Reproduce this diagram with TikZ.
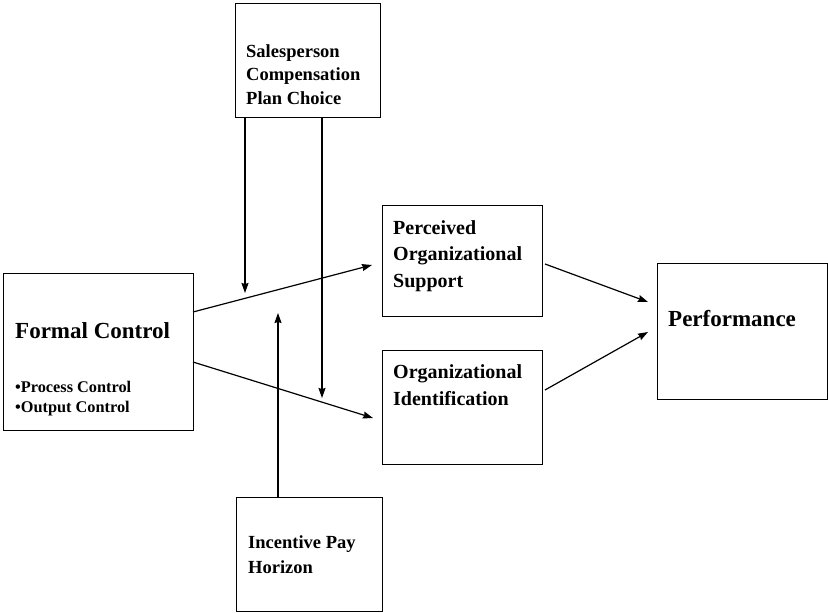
\documentclass[tikz,border=0pt]{standalone}
\usepackage{fontspec}
\setmainfont{Liberation Serif}
\usetikzlibrary{arrows.meta,calc}
\begin{document}
\begin{tikzpicture}[x=1pt,y=-1pt,
  box/.style={draw=black,line width=1pt,inner sep=0pt,outer sep=0pt,anchor=north west,fill=white},
  lbl/.style={anchor=base west,align=left,inner sep=0pt,font=\bfseries},
  arr/.style={line width=1.2pt,-{Stealth[length=10pt,width=7pt,inset=1pt]}}]
\useasboundingbox[fill=white] (0,0) rectangle (828,613);
% boxes
\node[box,minimum width=145pt,minimum height=114pt] (sp) at (235,3) {};
\node[box,minimum width=190pt,minimum height=157pt] (fc) at (3,273) {};
\node[box,minimum width=160pt,minimum height=111pt] (pos) at (382,205) {};
\node[box,minimum width=160pt,minimum height=114pt] (oi) at (382,350) {};
\node[box,minimum width=170pt,minimum height=136pt] (perf) at (657,263) {};
\node[box,minimum width=146pt,minimum height=114pt] (ip) at (236,497) {};
% labels (base = baseline of last line)
\node[lbl,font=\bfseries\fontsize{18.5}{23.5}\selectfont] (tsp) at (246,104) {Salesperson\\Compensation\\Plan Choice};
\node[lbl,font=\bfseries\fontsize{23}{27}\selectfont] (tfc) at (15,338) {Formal Control};
\node[lbl,font=\bfseries\fontsize{16.3}{20}\selectfont] (tfc2) at (15,412) {•Process Control\\•Output Control};
\node[lbl,font=\bfseries\fontsize{20}{26.5}\selectfont] (tpos) at (393,287) {Perceived\\Organizational\\Support};
\node[lbl,font=\bfseries\fontsize{20}{26.5}\selectfont] (toi) at (393,405) {Organizational\\Identification};
\node[lbl,font=\bfseries\fontsize{23}{27}\selectfont] (tperf) at (668,326) {Performance};
\node[lbl,font=\bfseries\fontsize{18.5}{25}\selectfont] (tip) at (248,573) {Incentive Pay\\Horizon};
% free ends
\coordinate (m1) at (245,293);
\coordinate (m2) at (322,398);
\coordinate (m3) at (278,313);
% connectors
\draw[arr] ($(fc.north east)+(0,39)$) -- ($(pos.north west)+(-10,60)$);
\draw[arr] ($(fc.north east)+(0,89)$) -- ($(oi.north west)+(-9,68)$);
\draw[arr] ($(pos.north east)+(3,59)$) -- ($(perf.north west)+(-9,39)$);
\draw[arr] ($(oi.north east)+(3,40)$) -- ($(perf.north west)+(-9,69)$);
\draw[arr] ($(sp.south west)+(10,0)$) -- (m1);
\draw[arr] ($(sp.south west)+(87,0)$) -- (m2);
\draw[arr] ($(ip.north west)+(42,0)$) -- (m3);
\end{tikzpicture}
\end{document}
